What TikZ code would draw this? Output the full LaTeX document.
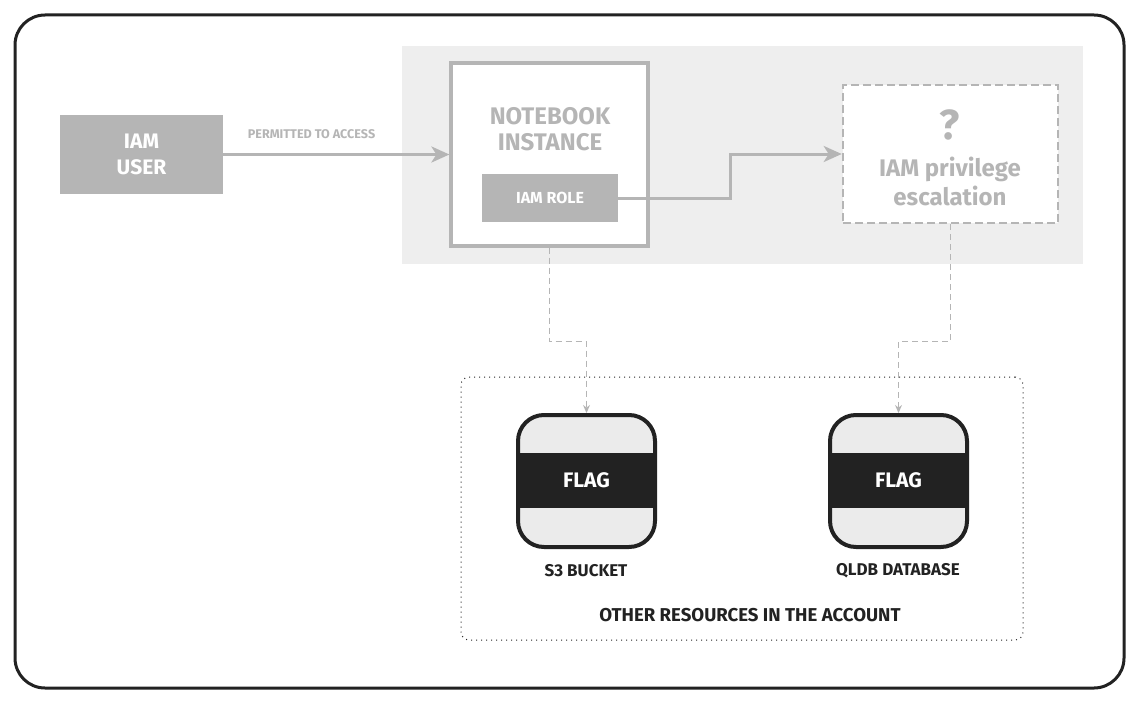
\documentclass[tikz,border=0pt]{standalone}
\usepackage{fontspec}
\setmainfont{Fira Sans}
\usepackage{xcolor}
\usetikzlibrary{
    arrows.meta,
    positioning
}
\definecolor{softgray}{HTML}{B5B5B5}
\definecolor{bandgray}{HTML}{EEEEEE}
\definecolor{inkdark}{HTML}{222222}
\definecolor{bucketfill}{HTML}{EBEBEB}

\begin{document}
\begin{tikzpicture}[
    x=0.5pt, y=-0.5pt,
    font=\bfseries,
    frame/.style={
        rectangle,
        rounded corners=15pt,
        draw=inkdark,
        line width=1.5pt,
        minimum width=554.5pt,
        minimum height=336.5pt
    },
    band/.style={
        rectangle,
        fill=bandgray,
        minimum width=340.5pt,
        minimum height=109pt
    },
    greybox/.style={
        rectangle,
        fill=softgray,
        text=white,
        align=center,
        inner sep=0pt
    },
    whitebox/.style={
        rectangle,
        fill=white,
        draw=softgray,
        line width=1.6pt,
        inner sep=0pt
    },
    bucket/.style={
        rectangle,
        rounded corners=13pt,
        fill=bucketfill,
        draw=inkdark,
        line width=2pt,
        minimum width=68.5pt,
        minimum height=66pt
    },
    flagband/.style={
        rectangle,
        fill=inkdark,
        text=white,
        font=\bfseries\fontsize{10.5}{12}\selectfont,
        minimum width=68.5pt,
        minimum height=27.5pt,
        inner sep=0pt
    },
    greytext/.style={
        text=softgray,
        align=center
    },
    darktext/.style={
        text=inkdark,
        align=center
    },
    flow/.style={
        -{Stealth[length=9pt,width=8pt,inset=2.5pt]},
        line width=1.5pt,
        draw=softgray
    },
    link/.style={
        -{Stealth[length=4pt,width=3.5pt]},
        line width=0.5pt,
        draw=softgray,
        dash pattern=on 3pt off 2pt
    }
]
\useasboundingbox (0,0) rectangle (1144,701);

% =========================================================
% Outer frame and the shaded instance area
% =========================================================
\node[frame] (page) at (569.5,351.5) {};
\node[band] (instarea) at (742.5,155) {};

% =========================================================
% Left: the user
% =========================================================
\node[greybox, minimum width=81.5pt, minimum height=39.5pt,
    font=\bfseries\fontsize{10.5}{13}\selectfont] (user) at (141.5,154.5)
{IAM\\USER};

% =========================================================
% Middle: notebook instance and escalation
% =========================================================
\node[whitebox, minimum width=98.5pt, minimum height=91.5pt] (notebook) at (549.5,154.5) {};
\node[greytext, font=\bfseries\fontsize{12}{13}\selectfont] (nbtitle) at (550,129)
{NOTEBOOK\\INSTANCE};

\node[greybox, minimum width=68pt, minimum height=24pt,
    font=\bfseries\fontsize{8}{10}\selectfont] (role) at (550,198)
{IAM ROLE};

\node[whitebox, dash pattern=on 4pt off 2pt, line width=1.3pt,
    minimum width=107.5pt, minimum height=69pt] (escalation) at (950.5,154) {};
\node[greytext, font=\bfseries\fontsize{21}{22}\selectfont] (quest) at (950,125) {?};
\node[greytext, font=\bfseries\fontsize{12}{14.5}\selectfont] (esctext) at (950,181)
{IAM privilege\\escalation};

% =========================================================
% Bottom: other resources
% =========================================================
\node[draw=inkdark, dotted, line width=0.5pt, rounded corners=4pt,
    minimum width=281pt, minimum height=131.5pt] (others) at (742,508.5) {};

\node[bucket] (s3) at (586.5,481) {};
\node[flagband] (s3flag) at (586.5,480.5) {FLAG};
\node[bucket] (qldb) at (898.5,481) {};
\node[flagband] (qldbflag) at (898.5,480.5) {FLAG};

\node[darktext, font=\bfseries\fontsize{8.5}{10}\selectfont] (s3label) at (586,571) {S3 BUCKET};
\node[darktext, font=\bfseries\fontsize{8.5}{10}\selectfont] (qldblabel) at (898,571) {QLDB DATABASE};
\node[darktext, font=\bfseries\fontsize{9.3}{11}\selectfont] (otherslabel) at (750,615)
{OTHER RESOURCES IN THE ACCOUNT};

% =========================================================
% Arrows
% =========================================================
\draw[flow] (user.east) -- node[pos=0.39, above, yshift=4pt, text=softgray,
    font=\bfseries\fontsize{6.3}{7}\selectfont] {PERMITTED TO ACCESS} (notebook.west);
\draw[flow] (role.east) -- ++(112,0) |- (escalation.west);

\draw[link] (notebook.south) -- ++(0,94) -| (s3.north);
\draw[link] (escalation.south) -- ++(0,117) -| (qldb.north);

\end{tikzpicture}
\end{document}
